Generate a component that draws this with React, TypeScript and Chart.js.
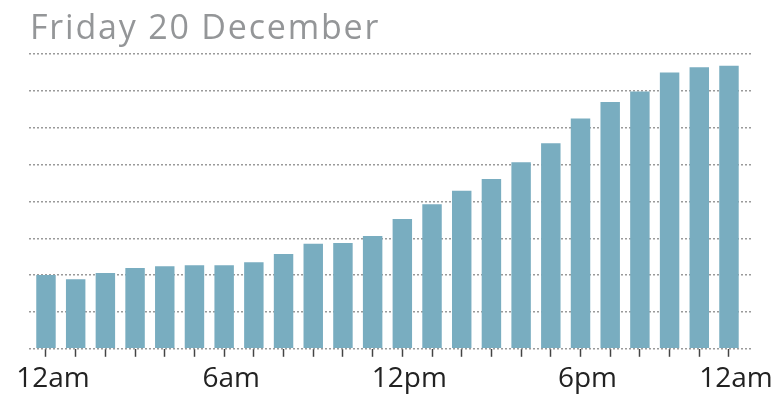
import React, { useEffect, useRef } from "react";
import { Chart, registerables } from "chart.js";

Chart.register(...registerables);

const title = "Friday 20 December";
const hours = [
  "12am", "1am", "2am", "3am", "4am", "5am", "6am", "7am", "8am", "9am", "10am", "11am",
  "12pm", "1pm", "2pm", "3pm", "4pm", "5pm", "6pm", "7pm", "8pm", "9pm", "10pm", "11pm",
];
const values = [
  2.0, 1.89, 2.06, 2.19, 2.24, 2.27, 2.27, 2.35, 2.57, 2.85, 2.87, 3.06,
  3.52, 3.92, 4.29, 4.61, 5.06, 5.58, 6.25, 6.7, 6.98, 7.5, 7.64, 7.68,
];
const tickIndices = [0, 6, 12, 18, 23];
const tickLabels = ["12am", "6am", "12pm", "6pm", "12am"];
const yMax = 8;

export default function App() {
  const ref = useRef<HTMLCanvasElement>(null);

  useEffect(() => {
    document.body.style.margin = "0";
    const ctx = ref.current!;
    const chart = new Chart(ctx, {
      type: "bar",
      data: {
        datasets: [
          {
            label: "values",
            data: values.map((v, i) => ({ x: i, y: v })),
            backgroundColor: "#79adc0",
            borderWidth: 0,
            barPercentage: 1,
            categoryPercentage: 0.655,
          },
        ],
      },
      options: {
        responsive: false,
        animation: false,
        devicePixelRatio: 1,
        layout: { padding: { left: 27, right: 23, top: 54, bottom: -7 } },
        plugins: { legend: { display: false }, tooltip: { enabled: false }, title: { display: false } },
        scales: {
          x: {
            type: "linear",
            offset: false,
            min: -0.571,
            max: 23.772,
            border: { display: false },
            grid: {
              display: true,
              offset: false,
              drawOnChartArea: false,
              drawTicks: true,
              tickLength: 8,
              tickColor: "#444",
              tickWidth: 1.5,
            },
            afterBuildTicks: (axis: any) => {
              axis.ticks = hours.map((_, i) => ({ value: i }));
            },
            ticks: {
              autoSkip: false,
              maxRotation: 0,
              padding: 8.6,
              labelOffset: 7,
              color: "#222",
              font: { family: "'Open Sans'", size: 28, lineHeight: 1 },
              callback: (v: any) => {
                const k = tickIndices.indexOf(Number(v));
                return k >= 0 ? tickLabels[k] : "";
              },
            },
          },
          y: {
            min: 0,
            max: yMax,
            border: { display: false, dash: [2, 2] },
            ticks: { display: false, stepSize: 1 },
            grid: {
              color: "#9a9a9a",
              lineWidth: 1.5,
              drawTicks: false,
            },
          },
        },
      },
    } as any);
    return () => chart.destroy();
  }, []);

  return (
    <div style={{ position: "relative", width: 775, height: 395 }}>
      <canvas ref={ref} width={775} height={395} />
      <div
        style={{
          position: "absolute",
          left: 30,
          top: 9,
          fontFamily: "'Open Sans'",
          fontSize: 34,
          lineHeight: "34px",
          letterSpacing: "1.8px",
          color: "#949698",
          whiteSpace: "nowrap",
        }}
      >
        {title}
      </div>
    </div>
  );
}
